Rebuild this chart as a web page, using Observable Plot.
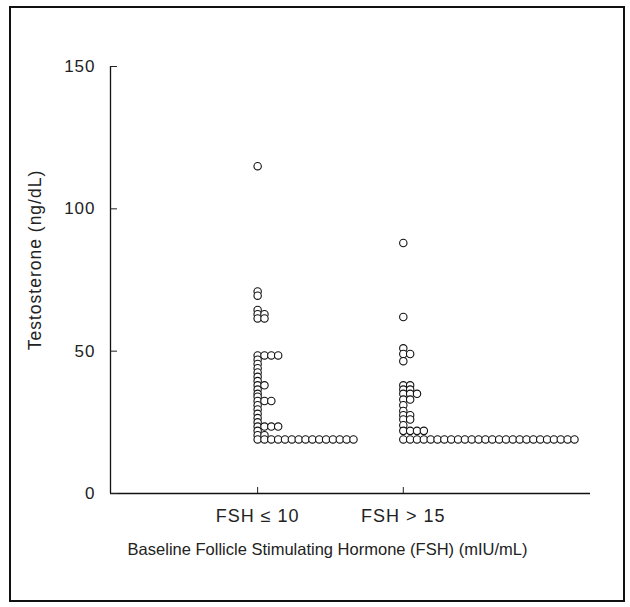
<!DOCTYPE html>
<html><head><meta charset="utf-8">
<script src="https://cdn.jsdelivr.net/npm/d3@7"></script>
<script src="https://cdn.jsdelivr.net/npm/@observablehq/plot@0.6"></script>
<style>
body{margin:0;background:#fff;}
#wrap{position:relative;width:630px;height:607px;overflow:hidden;}
#border{position:absolute;left:9px;top:6px;width:612px;height:592px;border:2px solid #111;pointer-events:none;}
#chart{position:absolute;left:0;top:0;}
#chart g[aria-label="y-axis tick label"] text{letter-spacing:1px;}
#chart g[aria-label="x-axis tick label"] text{letter-spacing:1px;}
#chart g.ylab text{letter-spacing:1px;}
</style></head><body>
<div id="wrap"><div id="chart"></div><div id="border"></div></div>
<script>
// Categories (x) and their positions
const groups = ["FSH \u2264 10", "FSH > 15"];
const groupPositions = [0, 1];
// Testosterone (ng/dL) of each subject, per FSH group
const lowFSH = [115, 71, 69.5, 64.5, 63, 63, 61.5, 61.5,
  48.5, 48.5, 48.5, 48.5, 47, 45.5, 44, 42.5, 41, 39.5, 38, 38, 36.5, 35, 34,
  32.5, 32.5, 32.5, 31, 29.5, 28, 26.5, 25, 23.5, 23.5, 23.5, 23.5, 22, 20.5, 20.5,
  19, 19, 19, 19, 19, 19, 19, 19, 19, 19, 19, 19, 19, 19, 19];
const highFSH = [88, 62, 51, 49, 49, 46.5,
  38, 38, 36.5, 36.5, 35, 35, 35, 33, 33, 31, 29, 27.5, 27.5, 26, 26, 24,
  22, 22, 22, 22,
  19, 19, 19, 19, 19, 19, 19, 19, 19, 19, 19, 19, 19, 19, 19, 19, 19, 19, 19, 19, 19, 19, 19, 19, 19, 19];
const yTicks = [0, 50, 100, 150];
const xDomain = [-1.01, 2.285];
const yDomain = [0, 150];
const xLabel = "Baseline Follicle Stimulating Hormone (FSH) (mIU/mL)";
const yLabel = "Testosterone (ng/dL)";
const step = 0.047; // horizontal spacing of tied values, in x units

function stackTies(values, gi) {
  const seen = new Map();
  return values.map(v => {
    const k = seen.get(v) || 0;
    seen.set(v, k + 1);
    return {group: groups[gi], x: groupPositions[gi] + k * step, value: v};
  });
}
const data = [...stackTies(lowFSH, 0), ...stackTies(highFSH, 1)];

const chart = Plot.plot({
  width: 630, height: 607,
  marginLeft: 110, marginRight: 40, marginTop: 66, marginBottom: 114,
  style: {fontFamily: "'Liberation Sans', Arial, sans-serif", fontSize: "16px", color: "#222", background: "transparent"},
  x: {domain: xDomain},
  y: {domain: yDomain},
  marks: [
    Plot.ruleY([yDomain[0]], {stroke: "#111", strokeWidth: 1.3}),
    Plot.ruleX([xDomain[0]], {stroke: "#111", strokeWidth: 1.3}),
    Plot.axisY({ticks: yTicks, tickSize: -7, tickPadding: 22, tickFormat: d => d, fontSize: 17, label: null}),
    Plot.axisX({ticks: groupPositions, tickSize: -6, tickPadding: 22, tickFormat: i => groups[i], fontSize: 18, label: null}),
    Plot.text([yLabel], {frameAnchor: "left", textAnchor: "middle", rotate: -90, dx: -75, dy: -20, fontSize: 17.5,
      fill: "#222", className: "ylab"}),
    Plot.text([xLabel], {frameAnchor: "bottom", textAnchor: "middle", dx: -23, dy: 61, fontSize: 16.5, fill: "#222"}),
    Plot.dot(data, {x: "x", y: "value", r: 3.7, fill: "white", stroke: "#111", strokeWidth: 1.1})
  ]
});
document.getElementById("chart").appendChild(chart);
</script>
</body></html>
